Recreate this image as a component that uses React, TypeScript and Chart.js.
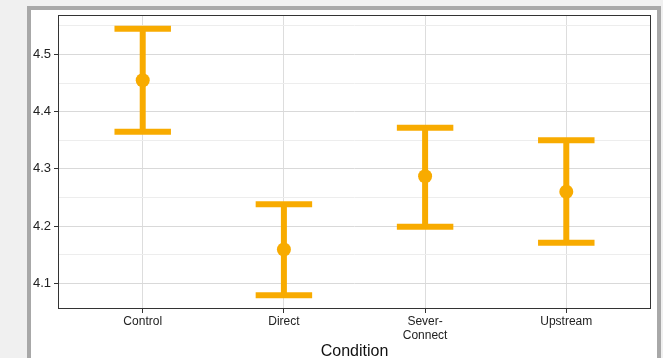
import React, { useEffect, useRef } from "react";
import { Chart, registerables } from "chart.js";

Chart.register(...registerables);

const categories = ["Control", "Direct", "Sever-Connect", "Upstream"];
const categoryLabels: (string | string[])[] = ["Control", "Direct", ["Sever-", "Connect"], "Upstream"];
const means = [4.455, 4.159, 4.287, 4.26];
const lowers = [4.365, 4.079, 4.199, 4.171];
const uppers = [4.545, 4.238, 4.372, 4.35];
const yTickValues = [4.1, 4.15, 4.2, 4.25, 4.3, 4.35, 4.4, 4.45, 4.5, 4.55];
const xTickValues = [1, 2, 3, 4];

const ORANGE = "#F8AB00";
const CAP_HALF = 0.2;

const isMajor = (v: number) => Math.abs(v * 10 - Math.round(v * 10)) < 1e-6;

export default function App() {
  const ref = useRef<HTMLCanvasElement | null>(null);

  useEffect(() => {
    if (!ref.current) return;
    const datasets: any[] = [];
    categories.forEach((_, i) => {
      const x = i + 1;
      const seg = (data: any[]) => ({
        type: "line",
        data,
        showLine: true,
        borderColor: ORANGE,
        borderWidth: 6,
        borderCapStyle: "butt",
        pointRadius: 0,
        pointHoverRadius: 0,
        fill: false,
        order: 2,
      });
      datasets.push(seg([{ x, y: lowers[i] }, { x, y: uppers[i] }]));
      datasets.push(seg([{ x: x - CAP_HALF, y: uppers[i] }, { x: x + CAP_HALF, y: uppers[i] }]));
      datasets.push(seg([{ x: x - CAP_HALF, y: lowers[i] }, { x: x + CAP_HALF, y: lowers[i] }]));
    });
    datasets.push({
      type: "scatter",
      data: means.map((m, i) => ({ x: i + 1, y: m })),
      backgroundColor: ORANGE,
      borderColor: ORANGE,
      pointRadius: 7,
      borderWidth: 0,
      order: 1,
    });

    const boxPlugin = {
      id: "box",
      beforeDatasetsDraw(chart: any) {
        const { ctx, chartArea } = chart;
        ctx.save();
        ctx.strokeStyle = "#333333";
        ctx.lineWidth = 1;
        ctx.strokeRect(chartArea.left + 0.5, chartArea.top + 0.5, chartArea.right - chartArea.left - 1, chartArea.bottom - chartArea.top - 1);
        ctx.restore();
      },
    };

    const chart = new Chart(ref.current, {
      type: "scatter",
      data: { datasets },
      plugins: [boxPlugin],
      options: {
        animation: false,
        responsive: false,
        events: [],
        layout: { padding: { left: 0, top: 15, right: 12, bottom: 0 } },
        plugins: { legend: { display: false }, tooltip: { enabled: false } },
        scales: {
          x: {
            type: "linear",
            min: 0.4,
            max: 4.6,
            afterFit: (s: any) => {
              s.height = 49;
            },
            afterBuildTicks: (s: any) => {
              s.ticks = xTickValues.map((v) => ({ value: v }));
            },
            border: { display: false },
            grid: { color: "#dddddd", lineWidth: 1, tickLength: 4, tickColor: "#333333" },
            ticks: {
              autoSkip: false,
              maxRotation: 0,
              padding: 1,
              color: "#222222",
              font: { family: "Liberation Sans", size: 12 },
              callback: (v: any) => {
                const idx = xTickValues.indexOf(Number(v));
                return idx >= 0 ? categoryLabels[idx] : "";
              },
            },
            title: {
              display: true,
              text: "Condition",
              color: "#111111",
              font: { family: "Liberation Sans", size: 16 },
              padding: { top: 0, bottom: -3 },
            },
          },
          y: {
            type: "linear",
            min: 4.055,
            max: 4.569,
            afterFit: (s: any) => {
              s.width = 58;
            },
            afterBuildTicks: (s: any) => {
              s.ticks = yTickValues.map((v) => ({ value: v }));
            },
            border: { display: false },
            grid: {
              color: (c: any) => (c.tick && isMajor(c.tick.value) ? "#d9d9d9" : "#ededed"),
              tickColor: (c: any) => (c.tick && isMajor(c.tick.value) ? "#333333" : "rgba(0,0,0,0)"),
              tickLength: 4,
              lineWidth: 1,
            },
            ticks: {
              autoSkip: false,
              padding: 3,
              color: "#222222",
              font: { family: "Liberation Sans", size: 13 },
              callback: (v: any) => (isMajor(Number(v)) ? Number(v).toFixed(1) : ""),
            },
          },
        },
      } as any,
    });
    return () => chart.destroy();
  }, []);

  return (
    <div style={{ position: "fixed", left: 0, top: 0, width: 663, height: 358, background: "#f0f0f0", overflow: "hidden" }}>
      <div
        style={{
          position: "absolute",
          left: 27,
          top: 6,
          width: 634,
          height: 400,
          boxSizing: "border-box",
          border: "4px solid #a8a8a8",
          background: "#ffffff",
        }}
      />
      <canvas ref={ref} width={663} height={358} style={{ position: "absolute", left: 0, top: 0 }} />
    </div>
  );
}
